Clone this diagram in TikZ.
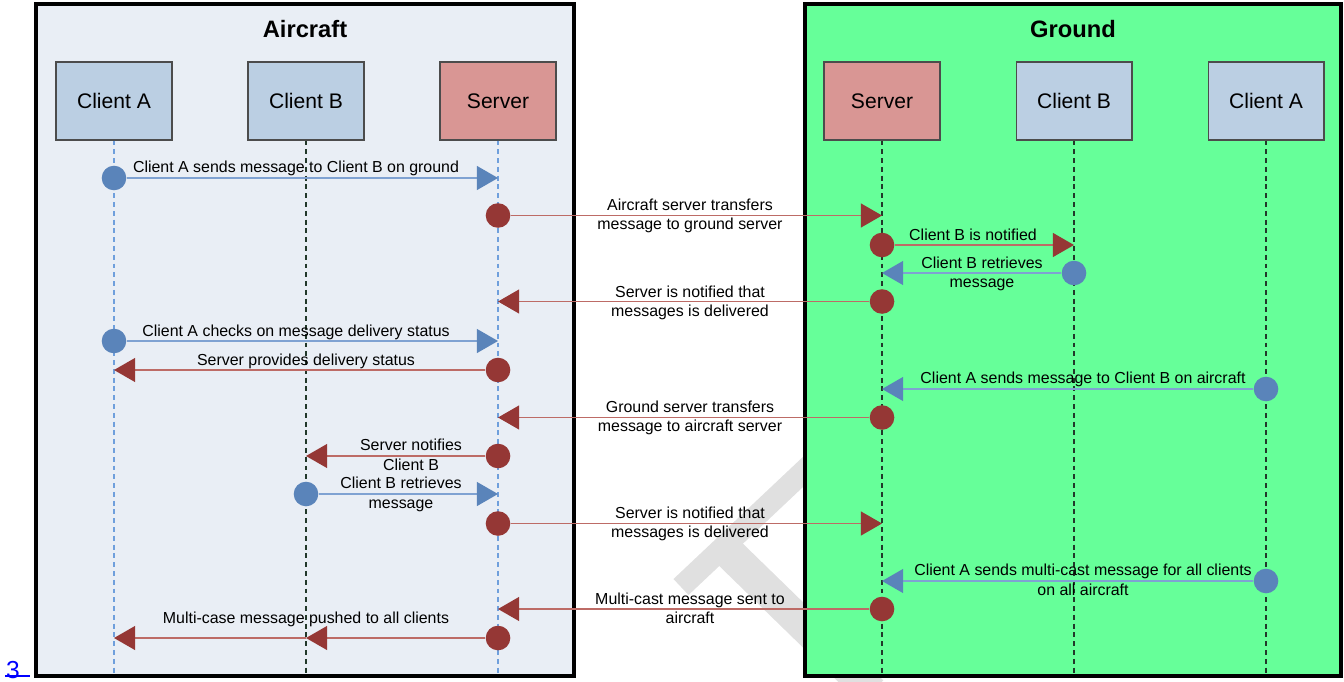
\documentclass[tikz,border=0pt]{standalone}
\usepackage{fontspec}
\setmainfont{Liberation Sans}
\usetikzlibrary{arrows.meta}

\definecolor{airbg}{HTML}{E9EEF5}
\definecolor{gndbg}{HTML}{66FF99}
\definecolor{clientfill}{HTML}{BBCFE3}
\definecolor{serverfill}{HTML}{D99694}
\definecolor{bdot}{HTML}{5A84BA}
\definecolor{bline}{HTML}{7FA2D2}
\definecolor{rdot}{HTML}{953735}
\definecolor{rline}{HTML}{BD6B66}
\definecolor{lifeblue}{HTML}{6F9FDC}
\definecolor{lifedark}{HTML}{22382A}

\begin{document}
\begin{tikzpicture}[x=0.02cm, y=-0.02cm,
	area/.style		= {line width=2.2pt},
	title/.style	= {font=\bfseries\fontsize{13.5}{16}\selectfont},
	clientbox/.style= {draw=black!70, line width=0.6pt, fill=clientfill,
		minimum width=2.32cm, minimum height=1.56cm, font=\fontsize{12}{14}\selectfont},
	serverbox/.style= {clientbox, fill=serverfill},
	airlife/.style	= {draw=lifeblue, line width=0.6pt, dash pattern=on 2.8pt off 2.2pt},
	darklife/.style	= {draw=lifedark, line width=0.9pt, dash pattern=on 2.8pt off 2.2pt},
	msgdot/.style	= {circle, fill=#1dot, minimum size=14pt},
	msgline/.style	= {draw=#1line, line width=0.8pt,
		-{Triangle[length=12pt, width=13.6pt, color=#1dot]}},
	lbl/.style		= {anchor=base, align=center, font=\fontsize{9.07}{11}\selectfont}
]
\tikzstyle{every node}=[inner sep=0pt]
\useasboundingbox (0,0) rectangle (1344,682);

% watermark behind the boxes
\draw[black!12, line width=12.5pt] (681,587) -- (822,454);
\draw[black!12, line width=18.5pt] (722,546) -- (872,692);

% the two areas
\draw[area, fill=airbg] (36,4) rectangle (574,676);
\draw[area, fill=gndbg] (805,4) rectangle (1341,676);
\node[title] (airt) at (305,29) {Aircraft};
\node[title] (gndt) at (1073,29) {Ground};

% heads of the lifelines
\node[clientbox] (aCA) at (114,101) {Client A};
\node[clientbox] (aCB) at (306,101) {Client B};
\node[serverbox] (aSV) at (498,101) {Server};
\node[serverbox] (gSV) at (882,101) {Server};
\node[clientbox] (gCB) at (1074,101) {Client B};
\node[clientbox] (gCA) at (1266,101) {Client A};

\foreach \n/\s in {aCA/airlife, aCB/darklife, aSV/airlife, gSV/darklife, gCB/darklife, gCA/darklife}
{
	\coordinate (\n-end) at (\n.south |- 0,676);
	\draw[\s] (\n) -- (\n-end);
}

% messages: number / y / from / to / colour
\foreach \i/\y/\f/\t/\c in {1/178/aCA/aSV/b, 2/215.5/aSV/gSV/r, 3/245/gSV/gCB/r,
	4/273/gCB/gSV/b, 5/301.5/gSV/aSV/r, 6/341/aCA/aSV/b, 7/370/aSV/aCA/r,
	8/389/gCA/gSV/b, 9/417.5/gSV/aSV/r, 10/456/aSV/aCB/r, 11/494/aCB/aSV/b,
	12/523.5/aSV/gSV/r, 13/581/gCA/gSV/b, 14/609/gSV/aSV/r, 15/638/aSV/aCB/r}
{
	\node[msgdot=\c] (d\i) at (\f |- 0,\y) {};
	\coordinate (t\i) at (\t |- 0,\y);
	\draw[msgline=\c] (d\i) -- (t\i);
}
\coordinate (t15b) at (aCA |- 0,638);
\draw[msgline=r] (t15) -- (t15b);

% labels (two-line ones sit on their last baseline)
\node[lbl] (l1) at (296,172.5) {Client A sends message to Client B on ground};
\node[lbl] (l2) at (690,229.5) {Aircraft server transfers\\message to ground server};
\node[lbl] (l3) at (973,240) {Client B is notified};
\node[lbl] (l4) at (982,287.5) {Client B retrieves\\message};
\node[lbl] (l5) at (690,316.5) {Server is notified that\\messages is delivered};
\node[lbl] (l6) at (296,336) {Client A checks on message delivery status};
\node[lbl] (l7) at (306,365) {Server provides delivery status};
\node[lbl] (l8) at (1083,383.5) {Client A sends message to Client B on aircraft};
\node[lbl] (l9) at (690,431.5) {Ground server transfers\\message to aircraft server};
\node[lbl] (l10) at (411,470) {Server notifies\\Client B};
\node[lbl] (l11) at (401,508) {Client B retrieves\\message};
\node[lbl] (l12) at (690,537.5) {Server is notified that\\messages is delivered};
\node[lbl] (l13) at (1083,595) {Client A sends multi-cast message for all clients\\on all aircraft};
\node[lbl] (l14) at (690,623.5) {Multi-cast message sent to\\aircraft};
\node[lbl] (l15) at (306,623) {Multi-case message pushed to all clients};

% page mark
\node[anchor=base, text=blue, font=\fontsize{14}{16}\selectfont] (pgno) at (13,678) {3};
\draw[blue, line width=0.8pt] (5,676) -- (30,676);
\end{tikzpicture}
\end{document}
